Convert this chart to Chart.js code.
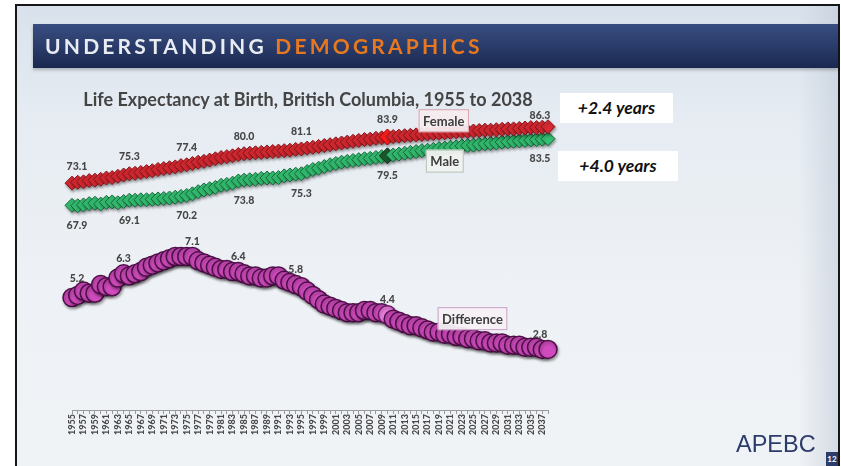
<!DOCTYPE html>
<html>
<head>
<meta charset="utf-8">
<script src="https://cdn.jsdelivr.net/npm/chart.js@4.4.1/dist/chart.umd.min.js"></script>
<style>
  html, body { margin: 0; padding: 0; background: #fff; }
  body { width: 841px; height: 466px; overflow: hidden; position: relative; font-family: Lato, 'Open Sans', sans-serif; }
  .slide {
    position: absolute; left: 15px; top: 4px; width: 821px; height: 470px;
    border-top: 2px solid #161616; border-left: 2px solid #161616; border-right: 2px solid #161616;
    background: linear-gradient(to bottom, #d9e2ec 0%, #e6ecf2 25%, #eef1f5 60%, #f0f3f6 100%);
  }
  .slide:after {
    content: ''; position: absolute; right: 0; top: 0; width: 40px; height: 100%;
    background: linear-gradient(to right, rgba(200,210,222,0), rgba(190,200,214,0.55));
  }
  .header {
    position: absolute; left: 33px; top: 24px; width: 805px; height: 44px;
    background: linear-gradient(to bottom, #384d80 0%, #2a3c6a 50%, #1a2850 100%);
    box-shadow: 0 2px 3px rgba(0,0,0,0.25);
    color: #e9edf3; font-weight: bold; font-size: 21px; letter-spacing: 3.2px;
    line-height: 44px; padding-left: 12px; box-sizing: border-box; z-index: 2;
  }
  .header span { color: #e8781f; }
  .title {
    position: absolute; left: 56px; width: 504px; top: 88px; text-align: center;
    font-weight: bold; font-size: 18px; color: #444; z-index: 2;
  }
  .note {
    position: absolute; background: #fff; font-weight: bold; font-style: italic;
    font-size: 17.5px; color: #111; text-align: center; z-index: 2;
  }
  .brand {
    position: absolute; left: 736px; top: 431px; font-family: 'Liberation Sans', Arial, sans-serif;
    font-size: 23.5px; color: #2b3b6c; z-index: 2;
  }
  .pnum {
    position: absolute; left: 826px; top: 452px; width: 12px; height: 14px;
    background: #2c3c6a; color: #fff; font-size: 8px; font-weight: bold; text-align: center; line-height: 14px; z-index: 2;
  }
  canvas { position: absolute; left: 0; top: 0; z-index: 1; }
</style>
</head>
<body>
<div class="slide"></div>
<div class="header">UNDERSTANDING <span>DEMOGRAPHICS</span></div>
<div class="title">Life Expectancy at Birth, British Columbia, 1955 to 2038</div>
<div class="note" style="left:560px;top:93px;width:113px;height:30px;line-height:30px;">+2.4 years</div>
<div class="note" style="left:558px;top:151px;width:120px;height:30px;line-height:30px;">+4.0 years</div>
<div class="brand">APEBC</div>
<div class="pnum">12</div>
<canvas id="chart1" width="841" height="466"></canvas>
<script>
  // categories
  var years = [1955, 1956, 1957, 1958, 1959, 1960, 1961, 1962, 1963, 1964,
               1965, 1966, 1967, 1968, 1969, 1970, 1971, 1972, 1973, 1974,
               1975, 1976, 1977, 1978, 1979, 1980, 1981, 1982, 1983, 1984,
               1985, 1986, 1987, 1988, 1989, 1990, 1991, 1992, 1993, 1994,
               1995, 1996, 1997, 1998, 1999, 2000, 2001, 2002, 2003, 2004,
               2005, 2006, 2007, 2008, 2009, 2010, 2011, 2012, 2013, 2014,
               2015, 2016, 2017, 2018, 2019, 2020, 2021, 2022, 2023, 2024,
               2025, 2026, 2027, 2028, 2029, 2030, 2031, 2032, 2033, 2034,
               2035, 2036, 2037, 2038];

  // series values (years of life expectancy)
  var female = [73.1, 73.3, 73.4, 73.7, 73.8, 74.0, 74.3, 74.4, 74.7, 75.0,
                75.3, 75.4, 75.6, 75.8, 76.0, 76.3, 76.5, 76.7, 76.9, 77.2,
                77.4, 77.7, 78.0, 78.2, 78.5, 78.8, 79.1, 79.3, 79.5, 79.8,
                80.0, 80.1, 80.2, 80.3, 80.4, 80.5, 80.6, 80.7, 80.8, 81.0,
                81.1, 81.3, 81.5, 81.7, 81.9, 82.1, 82.3, 82.5, 82.7, 82.9,
                83.1, 83.3, 83.4, 83.6, 83.7, 83.9, 84.0, 84.1, 84.2, 84.3,
                84.4, 84.5, 84.6, 84.7, 84.8, 84.9, 85.0, 85.1, 85.2, 85.2,
                85.3, 85.4, 85.5, 85.5, 85.6, 85.7, 85.8, 85.8, 85.9, 86.0,
                86.1, 86.1, 86.2, 86.3];

  var male = [67.9, 67.8, 68.0, 68.3, 68.4, 68.2, 68.6, 68.7, 68.5, 68.8,
              69.1, 69.1, 69.2, 69.2, 69.3, 69.4, 69.5, 69.6, 69.8, 70.0,
              70.2, 70.6, 71.1, 71.5, 71.8, 72.1, 72.6, 72.8, 73.1, 73.6,
              73.8, 73.9, 74.0, 74.2, 74.3, 74.3, 74.4, 74.8, 75.0, 75.2,
              75.3, 75.8, 76.3, 76.6, 77.0, 77.4, 77.7, 78.0, 78.2, 78.4,
              78.6, 78.8, 78.9, 79.1, 79.3, 79.5, 79.7, 79.9, 80.1, 80.3,
              80.5, 80.7, 80.8, 81.0, 81.2, 81.3, 81.5, 81.6, 81.8, 81.9,
              82.0, 82.2, 82.3, 82.4, 82.5, 82.7, 82.8, 82.9, 83.0, 83.1,
              83.2, 83.3, 83.4, 83.5];

  var difference = [5.2, 5.3, 5.5, 5.4, 5.4, 5.8, 5.7, 5.7, 6.1, 6.3,
                    6.2, 6.3, 6.4, 6.6, 6.7, 6.8, 6.9, 7.0, 7.1, 7.1,
                    7.1, 7.1, 6.9, 6.8, 6.7, 6.6, 6.5, 6.5, 6.4, 6.4,
                    6.3, 6.2, 6.2, 6.1, 6.1, 6.2, 6.2, 6.0, 5.9, 5.8,
                    5.7, 5.5, 5.3, 5.1, 4.9, 4.8, 4.7, 4.6, 4.5, 4.5,
                    4.5, 4.6, 4.6, 4.5, 4.5, 4.4, 4.2, 4.1, 4.0, 3.9,
                    3.9, 3.8, 3.7, 3.6, 3.6, 3.5, 3.5, 3.4, 3.4, 3.3,
                    3.3, 3.2, 3.2, 3.1, 3.1, 3.1, 3.0, 3.0, 3.0, 2.9,
                    2.9, 2.9, 2.8, 2.8];

  // which points carry a value label
  var sexLabelYears = [1955, 1965, 1975, 1985, 1995, 2010, 2038];
  var diffLabelYears = [1955, 1964, 1976, 1984, 1994, 2010, 2038];
  var highlightYear = 2010;

  Chart.defaults.font.family = 'Lato';

  function hi(normal, special) {
    return function(c) { return years[c.dataIndex] === highlightYear ? special : normal; };
  }

  // value labels + series name boxes
  var labelPlugin = {
    id: 'pointLabels',
    beforeDatasetDraw: function(chart) {
      var ctx = chart.ctx;
      ctx.save();
      ctx.shadowColor = 'rgba(0,0,0,0.35)';
      ctx.shadowBlur = 3;
      ctx.shadowOffsetX = 1;
      ctx.shadowOffsetY = 2;
    },
    afterDatasetDraw: function(chart) {
      chart.ctx.restore();
    },
    afterDatasetsDraw: function(chart) {
      var ctx = chart.ctx;
      ctx.save();
      chart.data.datasets.forEach(function(ds, di) {
        var meta = chart.getDatasetMeta(di);
        ctx.font = '900 10.5px Lato';
        ctx.fillStyle = '#464646';
        ctx.textAlign = 'center';
        ctx.textBaseline = 'middle';
        ds.labelYears.forEach(function(yr) {
          var i = years.indexOf(yr);
          var pt = meta.data[i];
          var dx = 0, dy = ds.labelDy;
          if (i === 0) { dx = 5; dy = ds.firstDy; }
          if (i === years.length - 1) { dx = -8; dy = ds.lastDy; }
          ctx.fillText(ds.data[i].toFixed(1), pt.x + dx, pt.y + dy);
        });

        // name box
        var j = years.indexOf(ds.nameYear);
        var p = meta.data[j];
        var cx = p.x + ds.nameDx, cy = p.y + ds.nameDy;
        ctx.font = 'bold 13px Lato';
        var w = ctx.measureText(ds.label).width + 9, h = 23;
        ctx.fillStyle = ds.nameFill;
        ctx.fillRect(cx - w / 2, cy - h / 2, w, h);
        ctx.lineWidth = 1;
        ctx.strokeStyle = ds.nameBorder;
        ctx.strokeRect(cx - w / 2 + 0.5, cy - h / 2 + 0.5, w - 1, h - 1);
        ctx.fillStyle = '#3d3d3d';
        ctx.fillText(ds.label, cx, cy + 1);
      });
      ctx.restore();
    }
  };

  var ctx = document.getElementById('chart1').getContext('2d');

  var myChart = new Chart(ctx, {
    type: 'line',
    data: {
      labels: years,
      datasets: [{
        label: 'Female',
        data: female,
        yAxisID: 'y',
        showLine: false,
        clip: false,
        pointStyle: 'rectRot',
        pointRadius: hi(7, 8),
        pointBackgroundColor: hi('#d92a33', '#ff1f1f'),
        pointBorderColor: hi('#861519', '#b00000'),
        pointBorderWidth: 1,
        labelYears: sexLabelYears,
        labelDy: -17,
        firstDy: -17,
        lastDy: -11,
        nameYear: 2020,
        nameDx: -1,
        nameDy: -12,
        nameFill: 'rgba(246,236,239,0.95)',
        nameBorder: '#d8a3ae'
      }, {
        label: 'Male',
        data: male,
        yAxisID: 'y',
        showLine: false,
        clip: false,
        pointStyle: 'rectRot',
        pointRadius: hi(7, 8),
        pointBackgroundColor: hi('#35c173', '#1d5a2e'),
        pointBorderColor: hi('#17683a', '#0c3318'),
        pointBorderWidth: 1,
        labelYears: sexLabelYears,
        labelDy: 20,
        firstDy: 20,
        lastDy: 20,
        nameYear: 2020,
        nameDx: 0,
        nameDy: 13,
        nameFill: 'rgba(240,242,240,0.95)',
        nameBorder: '#b4c2b4'
      }, {
        label: 'Difference',
        data: difference,
        yAxisID: 'y2',
        showLine: false,
        clip: false,
        pointStyle: 'circle',
        pointRadius: 9,
        pointBackgroundColor: hi('#d04bbd', '#ec7fdf'),
        pointBorderColor: hi('#4e0f48', '#6a1a62'),
        pointBorderWidth: 1.5,
        labelYears: diffLabelYears,
        labelDy: -15,
        firstDy: -19,
        lastDy: -15,
        nameYear: 2025,
        nameDx: -1,
        nameDy: -20,
        nameFill: 'rgba(244,240,244,0.95)',
        nameBorder: '#caa0c6'
      }]
    },
    options: {
      responsive: false,
      animation: false,
      layout: {
        padding: { left: 72, right: 293, top: 90, bottom: 26 }
      },
      plugins: {
        legend: { display: false },
        tooltip: { enabled: false }
      },
      scales: {
        x: {
          afterFit: function(scale) { scale.height = 30; },
          grid: { drawOnChartArea: false, tickLength: 4, color: '#9a9a9a' },
          border: { display: true, color: '#9a9a9a' },
          ticks: {
            autoSkip: false,
            minRotation: 90,
            maxRotation: 90,
            padding: 0,
            color: '#484848',
            font: { size: 9, weight: '900' },
            callback: function(val, idx) { return idx % 2 === 0 ? years[idx] : ''; }
          }
        },
        y: { display: false, min: 20, max: 94.9 },
        y2: { display: false, min: 0, max: 14.8 }
      }
    },
    plugins: [labelPlugin]
  });
</script>
</body>
</html>
